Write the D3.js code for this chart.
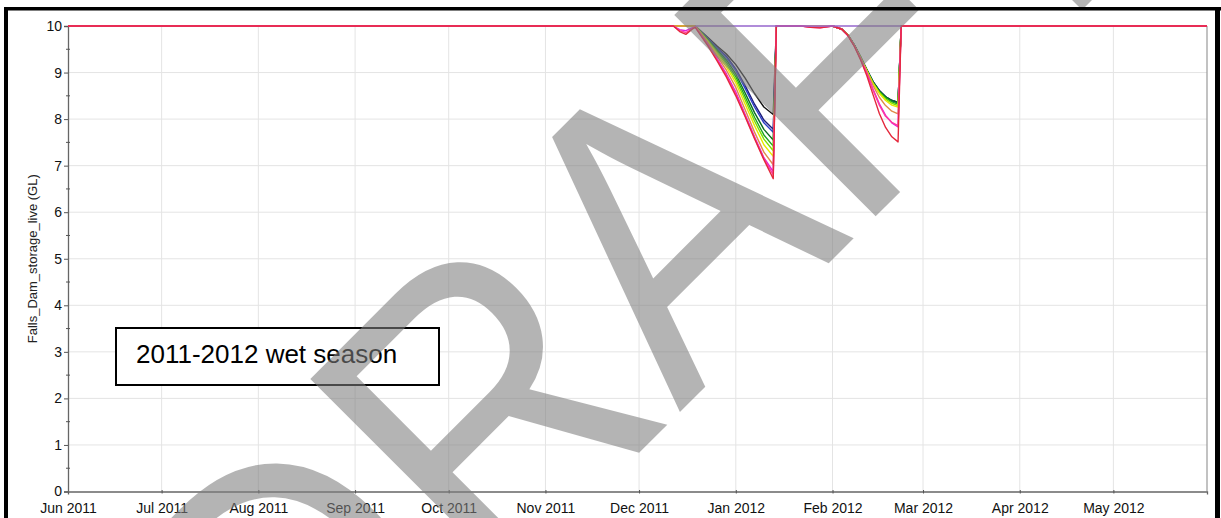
<!DOCTYPE html>
<html>
<head>
<meta charset="utf-8">
<script src="https://cdn.jsdelivr.net/npm/d3@7"></script>
<style>
  body { margin: 0; background: white; }
  text { font-family: Arial, "Liberation Sans", sans-serif; }
</style>
</head>
<body>
<div id="container"></div>
<script>
let w = 1221;
let h = 518;

// sample dates shared by all the ensemble traces
let dates = ["2011-06-01","2011-12-12","2011-12-14","2011-12-16","2011-12-18","2011-12-19",
  "2011-12-23","2011-12-26","2011-12-29","2012-01-01","2012-01-04","2012-01-07","2012-01-10",
  "2012-01-13","2012-01-14","2012-01-22","2012-01-25","2012-01-28","2012-02-01","2012-02-04",
  "2012-02-06","2012-02-08","2012-02-10","2012-02-12","2012-02-14","2012-02-16","2012-02-18",
  "2012-02-20","2012-02-22","2012-02-23","2012-05-31"];

// storage (GL) for each trace, same order as dates
let blackVals = [10,10,10,10,10,10, 9.76,9.57,9.40,9.17,8.88,8.55,8.26,8.10, 10,10,10,10,
  10,9.93,9.80,9.59,9.33,9.06,8.80,8.61,8.48,8.40,8.36, 10,10];
let navyVals = [10,10,10,10,10,10, 9.74,9.54,9.35,9.08,8.72,8.32,7.98,7.78, 10,10,10,10,
  10,9.93,9.80,9.59,9.33,9.06,8.80,8.61,8.48,8.40,8.36, 10,10];
let blueVals = [10,10,10,10,10,10, 9.73,9.52,9.32,9.04,8.66,8.26,7.92,7.72, 10,10,10,10,
  10,9.93,9.80,9.59,9.33,9.06,8.80,8.61,8.48,8.40,8.36, 10,10];
let darkGreenVals = [10,10,10,10,10,10, 9.72,9.49,9.27,8.97,8.56,8.14,7.78,7.55, 10,10,10,10,
  10,9.93,9.80,9.59,9.33,9.06,8.80,8.61,8.48,8.40,8.36, 10,10];
let greenVals = [10,10,10,10,10,10, 9.70,9.46,9.22,8.91,8.48,8.04,7.66,7.42, 10,10,10,10,
  10,9.93,9.80,9.58,9.32,9.05,8.78,8.59,8.46,8.37,8.32, 10,10];
let limeVals = [10,10,10,10,10,10, 9.69,9.43,9.18,8.85,8.41,7.96,7.57,7.32, 10,10,10,10,
  10,9.93,9.80,9.58,9.32,9.05,8.77,8.57,8.43,8.34,8.29, 10,10];
let yellowVals = [10,10,10,10,10,10, 9.67,9.40,9.12,8.78,8.32,7.86,7.45,7.20, 10,10,10,10,
  10,9.93,9.80,9.58,9.32,9.04,8.76,8.55,8.40,8.30,8.26, 10,10];
let orangeVals = [10,10,10,10,10,10, 9.64,9.35,9.05,8.68,8.20,7.72,7.29,7.02, 10,10,10,10,
  10,9.93,9.80,9.58,9.31,9.02,8.72,8.47,8.29,8.17,8.11, 10,10];
let magentaVals = [10,10,9.92,9.90,9.96,9.98, 9.61,9.30,8.97,8.58,8.10,7.62,7.17,6.87, 10,10,9.98,9.97,
  10,9.93,9.79,9.57,9.29,8.98,8.64,8.33,8.08,7.92,7.83, 10,10];
let pinkVals = [10,10,9.90,9.86,9.94,9.98, 9.60,9.28,8.94,8.54,8.07,7.60,7.15,6.80, 10,10,9.97,9.96,
  10,9.93,9.79,9.57,9.29,8.97,8.62,8.30,8.06,7.93,7.86, 10,10];
let redVals = [10,10,9.88,9.82,9.93,9.97, 9.58,9.25,8.90,8.50,8.05,7.58,7.13,6.72, 10,10,9.97,9.96,
  10,9.93,9.79,9.56,9.27,8.93,8.52,8.12,7.82,7.62,7.51, 10,10];

// the flat trace sitting on the top through the wet season
let topDates = ["2011-12-19","2012-02-23"];
let topVals = [10,10];

let traceNames = ["black","navy","blue","darkgreen","green","lime","yellow","orange","magenta","pink","red"];
let traceVals = [blackVals,navyVals,blueVals,darkGreenVals,greenVals,limeVals,yellowVals,orangeVals,magentaVals,pinkVals,redVals];
let traceColors = ["#111111","#1c1c7a","#2a3cc8","#0b6b1e","#1fa51f","#7ee000","#e8e800","#e08a4a","#e020d8","#ff3aa0","#e4283c"];

let yTicks = [0,1,2,3,4,5,6,7,8,9,10];
let yMinor = [0.5,1.5,2.5,3.5,4.5,5.5,6.5,7.5,8.5,9.5];

let parse = d3.timeParse("%Y-%m-%d");

let viz = d3.select("#container")
  .append("svg")
    .attr("width", w)
    .attr("height", h)
    .style("background-color", "white")
;

// plot box
let plotLeft = 68, plotRight = 1207, plotTop = 26, plotBottom = 491.5;

let xScale = d3.scaleTime()
  .domain([parse("2011-06-01"), parse("2012-05-31")])
  .range([plotLeft, plotRight]);
let yScale = d3.scaleLinear().domain([0, 10]).range([plotBottom, plotTop]);

let months = d3.timeMonth.range(parse("2011-06-01"), parse("2012-05-31"));

// grid
let grid = viz.append("g").attr("class", "grid");
grid.selectAll(".vgrid").data(months.slice(1)).enter().append("line")
  .attr("x1", d => xScale(d)).attr("x2", d => xScale(d))
  .attr("y1", plotTop).attr("y2", plotBottom)
  .attr("stroke", "#e4e4e4").attr("stroke-width", 1);
grid.selectAll(".hgrid").data(yTicks.slice(1)).enter().append("line")
  .attr("x1", plotLeft).attr("x2", plotRight)
  .attr("y1", d => yScale(d)).attr("y2", d => yScale(d))
  .attr("stroke", "#e4e4e4").attr("stroke-width", 1);

// right border of the plot
viz.append("line")
  .attr("x1", plotRight).attr("x2", plotRight).attr("y1", plotTop).attr("y2", plotBottom)
  .attr("stroke", "#999").attr("stroke-width", 1.2);

// x axis
let xAxis = d3.axisBottom(xScale)
  .tickValues(months)
  .tickFormat(d3.timeFormat("%b %Y"))
  .tickSize(3)
  .tickPadding(9);
let xAxisGroup = viz.append("g").attr("class", "xaxis")
  .attr("transform", "translate(0," + plotBottom + ")")
  .call(xAxis);
xAxisGroup.select(".domain").attr("stroke", "#666").attr("stroke-width", 1.3);
xAxisGroup.selectAll(".tick line").attr("stroke", "#555").attr("y1", -1.5).attr("y2", 2);
xAxisGroup.selectAll("text").attr("font-size", "14px").attr("fill", "#111")
  .attr("font-family", "Arial, 'Liberation Sans', sans-serif");

// y axis
let yAxis = d3.axisLeft(yScale).tickValues(yTicks).tickSize(4).tickPadding(2);
let yAxisGroup = viz.append("g").attr("class", "yaxis")
  .attr("transform", "translate(" + plotLeft + ",0)")
  .call(yAxis);
yAxisGroup.select(".domain").attr("stroke", "#666").attr("stroke-width", 1.3);
yAxisGroup.selectAll(".tick line").attr("stroke", "#555");
yAxisGroup.selectAll("text").attr("font-size", "14px").attr("fill", "#111")
  .attr("font-family", "Arial, 'Liberation Sans', sans-serif");
yAxisGroup.selectAll(".minor").data(yMinor).enter().append("line")
  .attr("class", "minor")
  .attr("x1", -2).attr("x2", 2)
  .attr("y1", d => yScale(d)).attr("y2", d => yScale(d))
  .attr("stroke", "#555");

viz.append("text")
  .text("Falls_Dam_storage_live (GL)")
  .attr("transform", "translate(37," + ((plotTop + plotBottom) / 2) + ") rotate(-90)")
  .attr("text-anchor", "middle")
  .attr("font-size", "13px")
  .attr("fill", "#222");

// traces
let line = d3.line()
  .x(d => xScale(d.date))
  .y(d => yScale(d.value));

let traces = viz.append("g").attr("class", "traces");
traceVals.forEach(function(vals, i){
  let pts = dates.map(function(d, j){ return {date: parse(d), value: vals[j]}; });
  traces.append("path")
    .datum(pts)
    .attr("class", "trace " + traceNames[i])
    .attr("d", line)
    .attr("fill", "none")
    .attr("stroke", traceColors[i])
    .attr("stroke-width", 1.4)
    .attr("stroke-linejoin", "round");
});
let topPts = topDates.map(function(d, j){ return {date: parse(d), value: topVals[j]}; });
traces.append("path")
  .datum(topPts)
  .attr("d", line)
  .attr("fill", "none")
  .attr("stroke", "#9a6ad0")
  .attr("stroke-width", 1.4);

// annotation box
viz.append("rect")
  .attr("x", 116).attr("y", 328)
  .attr("width", 323).attr("height", 57)
  .attr("fill", "white")
  .attr("stroke", "black").attr("stroke-width", 2);
viz.append("text")
  .text("2011-2012 wet season")
  .attr("x", 136).attr("y", 363)
  .attr("font-size", "26px")
  .attr("fill", "black");

// DRAFT watermark, diagonal across the page
viz.append("text")
  .text("DRAFT")
  .attr("transform", "translate(301,791) rotate(-45)")
  .attr("text-anchor", "start")
  .attr("font-family", "Lato, 'Open Sans', sans-serif")
  .attr("font-size", "414px")
  .attr("textLength", 1235)
  .attr("lengthAdjust", "spacingAndGlyphs")
  .attr("fill", "#7f7f7f")
  .attr("opacity", 0.58);

// outer frame
let frame = viz.append("g").attr("class", "frame").attr("stroke", "black");
frame.append("line").attr("x1", 6).attr("x2", 6).attr("y1", 7).attr("y2", h).attr("stroke-width", 4);
frame.append("line").attr("x1", 4).attr("x2", 1221).attr("y1", 8.7).attr("y2", 8.7).attr("stroke-width", 3.5);
frame.append("line").attr("x1", 1217.5).attr("x2", 1217.5).attr("y1", 7).attr("y2", h).attr("stroke-width", 5);
</script>
</body>
</html>
